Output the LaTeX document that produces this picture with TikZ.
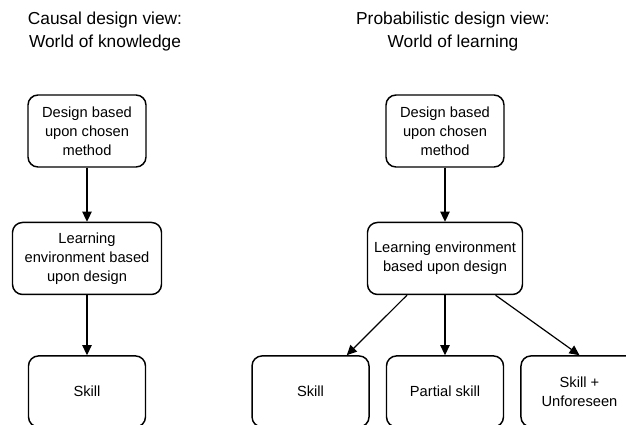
\documentclass[tikz,border=0pt]{standalone}
\usepackage{fontspec}
\setmainfont{Liberation Sans}
\usetikzlibrary{arrows.meta,positioning}

\begin{document}
\begin{tikzpicture}[
  x=0.75pt, y=-0.75pt,
  >={Triangle[length=7.5pt,width=7pt]},
  every node/.style={font=\fontsize{11}{14.25}\selectfont},
  box/.style={draw, line width=1.1pt, rounded corners=7.5pt, align=center,
              inner sep=0pt, minimum height=54pt},
  title/.style={align=center, font=\fontsize{13}{17.25}\selectfont},
  link/.style={->, line width=0.9pt}
]
\clip (0,0) rectangle (626,425);

\node (titleL) [title] at (105,31.5) {Causal design view:\\World of knowledge};
\node (titleR) [title] at (453,31.5) {Probabilistic design view:\\World of learning};

% causal view
\node (designL) [box, minimum width=88.5pt] at (87,131) {Design based\\upon chosen\\method};
\node (envL)    [box, minimum width=111.75pt, below=40.5pt of designL]
                {Learning\\environment based\\upon design};
\node (skillL)  [box, minimum width=87.75pt, minimum height=53.25pt, below=45pt of envL] {Skill};

% probabilistic view
\node (designR) [box, minimum width=88.5pt] at (445,131) {Design based\\upon chosen\\method};
\node (envR)    [box, minimum width=116.25pt, below=40.5pt of designR]
                {Learning environment\\based upon design};
\node (partR)   [box, minimum width=87.75pt, minimum height=53.25pt, below=45pt of envR] {Partial skill};
\node (skillR)  [box, minimum width=87.75pt, minimum height=53.25pt, left=12pt of partR] {Skill};
\node (unfR)    [box, minimum width=87.75pt, minimum height=53.25pt, right=12pt of partR]
                {Skill +\\Unforeseen};

\draw[link] (designL) -- (envL);
\draw[link] (envL)    -- (skillL);
\draw[link] (designR) -- (envR);
\draw[link] (envR.224) -- (skillR.45);
\draw[link] (envR)    -- (partR);
\draw[link] (envR.324) -- (unfR.north);
\end{tikzpicture}
\end{document}
